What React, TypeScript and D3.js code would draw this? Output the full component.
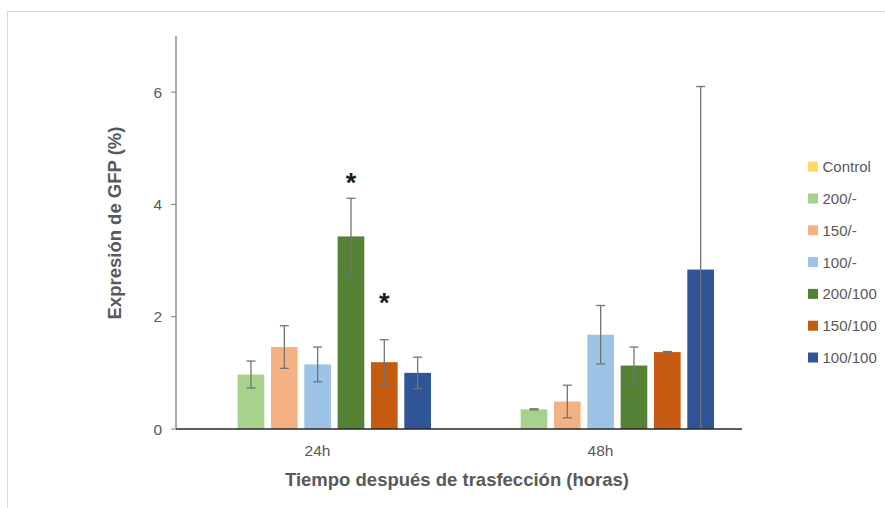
import React from "react";
import * as d3 from "d3";

const categories = ["24h", "48h"];
const series = ["Control", "200/-", "150/-", "100/-", "200/100", "150/100", "100/100"];
const colors = ["#FFD966", "#A9D18E", "#F4B183", "#9DC3E6", "#548235", "#C55A11", "#2F5597"];
const values24 = [0, 0.97, 1.46, 1.15, 3.43, 1.19, 1.0];
const errors24 = [0, 0.24, 0.38, 0.31, 0.68, 0.4, 0.28];
const values48 = [0, 0.35, 0.49, 1.68, 1.13, 1.37, 2.84];
const errors48 = [0, 0.01, 0.29, 0.52, 0.33, 0.01, 3.26];
const yTicks = [0, 2, 4, 6];
const stars = [
  { cat: "24h", s: "200/100", at: 4.5 },
  { cat: "24h", s: "150/100", at: 2.35 },
];

const W = 885, H = 508;
const left = 176, right = 742, top = 36, bottom = 429;
const font = "'Liberation Sans', Arial, sans-serif";
const textColor = "#595959";

export default function App() {
  const x = d3.scaleBand().domain(categories).range([left, right]).padding(0);
  const bw = x.bandwidth();
  const xs = d3.scaleBand().domain(series).range([25, bw - 24.7]).paddingInner(0.2).paddingOuter(0.1);
  const y = d3.scaleLinear().domain([0, 7]).range([bottom, top]);
  const data = [
    { cat: "24h", vals: values24, errs: errors24 },
    { cat: "48h", vals: values48, errs: errors48 },
  ];
  const capW = 9;
  const starFs = 27;
  return (
    <svg width={W} height={H} style={{ position: "absolute", left: 0, top: 0, background: "#fff" }}>
      <rect x={7.5} y={11.5} width={W} height={H} fill="none" stroke="#d9d9d9" strokeWidth={1} />
      {/* y axis */}
      <line x1={left} x2={left} y1={top} y2={bottom} stroke="#7f7f7f" strokeWidth={1.3} />
      {yTicks.map((t) => (
        <g key={t}>
          <line x1={left - 5} x2={left} y1={y(t)} y2={y(t)} stroke="#7f7f7f" strokeWidth={1} />
          <text x={left - 14} y={y(t)} dy="0.36em" textAnchor="end" fontFamily={font} fontSize={15.5} fill={textColor}>
            {t}
          </text>
        </g>
      ))}
      {/* bars */}
      {data.map((g) =>
        series.map((s, i) => {
          const bx = (x(g.cat) as number) + (xs(s) as number);
          const v = g.vals[i];
          const e = g.errs[i];
          const cx = bx + xs.bandwidth() / 2;
          return (
            <g key={g.cat + s}>
              {v > 0 && (
                <rect x={bx} y={y(v)} width={xs.bandwidth()} height={y(0) - y(v)} fill={colors[i]} />
              )}
              {v > 0 && e > 0 && (
                <g stroke="#737373" strokeWidth={1.3}>
                  <line x1={cx} x2={cx} y1={y(v + e)} y2={y(Math.max(0, v - e))} />
                  <line x1={cx - capW / 2} x2={cx + capW / 2} y1={y(v + e)} y2={y(v + e)} />
                  {v - e > 0 && (
                    <line x1={cx - capW / 2} x2={cx + capW / 2} y1={y(v - e)} y2={y(v - e)} />
                  )}
                </g>
              )}
            </g>
          );
        })
      )}
      {stars.map((st) => {
        const cx = (x(st.cat) as number) + (xs(st.s) as number) + xs.bandwidth() / 2;
        const yy = y(st.at) + 0.57 * starFs;
        return (
          <text key={st.s} x={cx} y={yy} textAnchor="middle" fontFamily={font} fontSize={starFs} fontWeight="bold" fill="#1a1a1a">
            *
          </text>
        );
      })}
      {/* x axis */}
      <line x1={left} x2={right} y1={bottom} y2={bottom} stroke="#262626" strokeWidth={1.3} />
      {categories.map((c) => (
        <text key={c} x={(x(c) as number) + bw / 2} y={450} dy="0.36em" textAnchor="middle" fontFamily={font} fontSize={15.5} fill={textColor}>
          {c}
        </text>
      ))}
      <text x={457} y={479} dy="0.36em" textAnchor="middle" fontFamily={font} fontSize={18.5} fontWeight="bold" fill={textColor}>
        Tiempo después de trasfección (horas)
      </text>
      <text transform={`translate(114,223) rotate(-90)`} dy="0.36em" textAnchor="middle" fontFamily={font} fontSize={18.5} fontWeight="bold" fill={textColor}>
        Expresión de GFP (%)
      </text>
      {/* legend */}
      {series.map((s, i) => {
        const ly = 166.7 + i * 31.8;
        return (
          <g key={s}>
            <rect x={808} y={ly - 5} width={10} height={10} fill={colors[i]} />
            <text x={822.5} y={ly} dy="0.36em" fontFamily={font} fontSize={15} fill={textColor}>
              {s}
            </text>
          </g>
        );
      })}
    </svg>
  );
}
